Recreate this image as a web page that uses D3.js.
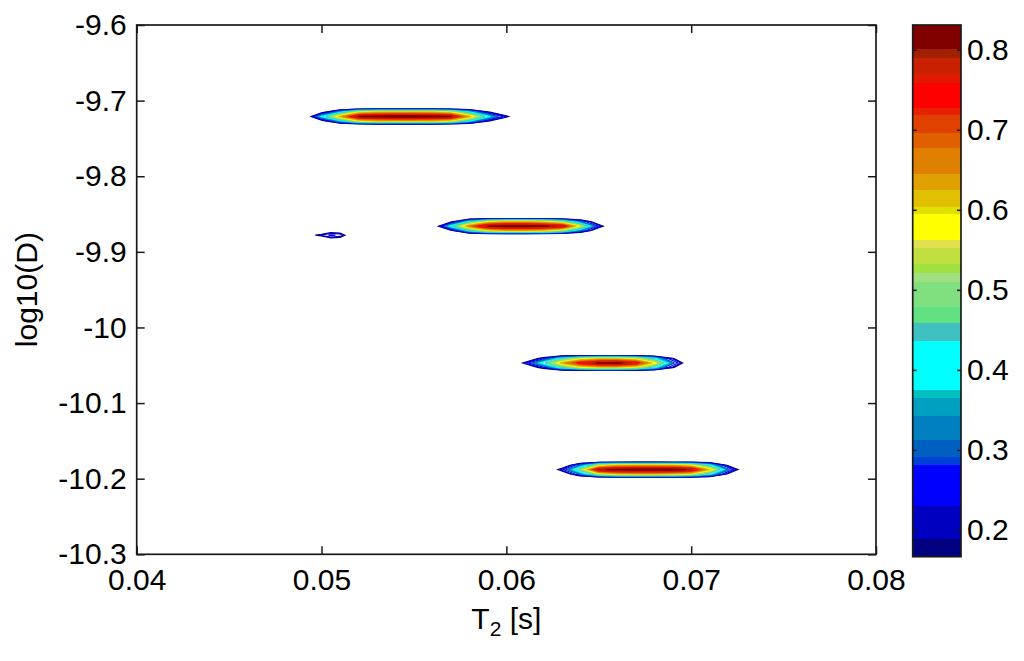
<!DOCTYPE html>
<html>
<head>
<meta charset="utf-8">
<script src="https://cdn.jsdelivr.net/npm/d3@7"></script>
<style>
body { margin: 0; background: #fff; }
text { font-family: "Liberation Sans", Arial, sans-serif; fill: #000; }
</style>
</head>
<body>
<script>
var width = 1024,
    height = 661;

// contour levels = lower edge of each colour band of the colorbar
var levels = [0.1666, 0.1884, 0.2300, 0.2813, 0.2916, 0.3125, 0.3429, 0.3646, 0.3750,
    0.4363, 0.4584, 0.4791, 0.5104, 0.5209, 0.5321, 0.5521, 0.5625, 0.5946, 0.6029,
    0.6250, 0.6446, 0.6771, 0.6959, 0.7188, 0.7271, 0.7584, 0.7696, 0.7896, 0.8009];
var levelColors = ["#000080", "#0000c0", "#0000ff", "#0040d8", "#0060c0", "#0080c0", "#00a0c0", "#00c0c0", "#00ffff",
    "#40c0c0", "#60e080", "#80e080", "#a0e080", "#a0e040", "#c0e040", "#e0e050", "#ffff00", "#e0e000", "#e0c000",
    "#e0a000", "#e08000", "#e06000", "#e04000", "#e82000", "#ff0000", "#e01a00", "#c82000", "#a02000", "#800000"];
var cbarMax = 0.8309;
var cbarTicks = [0.2, 0.3, 0.4, 0.5, 0.6, 0.7, 0.8];

var xTicks = [0.04, 0.05, 0.06, 0.07, 0.08];
var xTickLabels = ["0.04", "0.05", "0.06", "0.07", "0.08"];
var yTicks = [-9.6, -9.7, -9.8, -9.9, -10, -10.1, -10.2, -10.3];
var yTickLabels = ["-9.6", "-9.7", "-9.8", "-9.9", "-10", "-10.1", "-10.2", "-10.3"];

// log10(D) offsets of the grid rows around each peak centre (top row first)
var rowOffsets = [0.0116, 0.0058, 0, -0.0058, -0.0116];

// peak 1, log10(D) = -9.721
var peak1T2 = [0.049, 0.050, 0.051, 0.052, 0.053, 0.054, 0.055, 0.056, 0.057, 0.058, 0.059, 0.060, 0.061];
var peak1Mid = [0, 0.38, 0.62, 0.805, 0.82, 0.83, 0.83, 0.82, 0.805, 0.62, 0.40, 0.19, 0];
var peak1Side = [0, 0.12, 0.35, 0.55, 0.60, 0.60, 0.60, 0.60, 0.55, 0.38, 0.18, 0.05, 0];

// peak 2, log10(D) = -9.866
var peak2T2 = [0.055, 0.056, 0.057, 0.058, 0.059, 0.060, 0.061, 0.062, 0.063, 0.064, 0.065, 0.066];
var peak2Mid = [0, 0.05, 0.40, 0.66, 0.80, 0.83, 0.83, 0.81, 0.78, 0.55, 0.22, 0];
var peak2Side = [0, 0, 0.15, 0.40, 0.56, 0.60, 0.60, 0.58, 0.50, 0.30, 0.08, 0];

// peak 3, log10(D) = -10.047
var peak3T2 = [0.060, 0.061, 0.062, 0.063, 0.064, 0.065, 0.066, 0.067, 0.068, 0.069, 0.070, 0.071];
var peak3Mid = [0, 0.19, 0.42, 0.62, 0.75, 0.81, 0.82, 0.76, 0.58, 0.30, 0.05, 0];
var peak3Side = [0, 0.05, 0.22, 0.42, 0.54, 0.58, 0.58, 0.54, 0.40, 0.18, 0, 0];

// peak 4, log10(D) = -10.188
var peak4T2 = [0.062, 0.063, 0.064, 0.065, 0.066, 0.067, 0.068, 0.069, 0.070, 0.071, 0.072, 0.073, 0.074];
var peak4Mid = [0, 0.21, 0.48, 0.79, 0.82, 0.83, 0.83, 0.83, 0.79, 0.60, 0.30, 0.05, 0];
var peak4Side = [0, 0.06, 0.30, 0.52, 0.59, 0.60, 0.60, 0.59, 0.55, 0.40, 0.15, 0, 0];

// small peak, log10(D) = -9.878
var peak5T2 = [0.0490, 0.0495, 0.0500, 0.0505, 0.0510, 0.0515, 0.0520];
var peak5Mid = [0, 0.15, 0.20, 0.24, 0.22, 0.12, 0];
var peak5Side = [0, 0, 0.02, 0.12, 0.11, 0, 0];

var peaks = [
    {t2: peak5T2, logD: -9.878, mid: peak5Mid, side: peak5Side},
    {t2: peak1T2, logD: -9.721, mid: peak1Mid, side: peak1Side},
    {t2: peak2T2, logD: -9.866, mid: peak2Mid, side: peak2Side},
    {t2: peak3T2, logD: -10.047, mid: peak3Mid, side: peak3Side},
    {t2: peak4T2, logD: -10.188, mid: peak4Mid, side: peak4Side}
];

var margin = {left: 136.7, right: 876, top: 25, bottom: 554.3};

var svg = d3.select("body").append("svg")
    .attr("width", width)
    .attr("height", height);

var x = d3.scaleLinear().domain([0.04, 0.08]).range([margin.left, margin.right]);
var y = d3.scaleLinear().domain([-9.6, -10.3]).range([margin.top, margin.bottom]);

// contours
var plot = svg.append("g");
peaks.forEach(function(p) {
    var n = p.t2.length;
    var zeros = p.mid.map(function() { return 0; });
    var values = [].concat(zeros, p.side, p.mid, p.side, zeros);
    var ix = d3.scaleLinear().domain([0, n - 1]).range([x(p.t2[0]), x(p.t2[n - 1])]);
    var iy = d3.scaleLinear().domain([0, rowOffsets.length - 1])
        .range([y(p.logD + rowOffsets[0]), y(p.logD + rowOffsets[rowOffsets.length - 1])]);
    var path = d3.geoPath(d3.geoTransform({
        point: function(a, b) { this.stream.point(ix(a - 0.5), iy(b - 0.5)); }
    }));
    var contours = d3.contours().size([n, rowOffsets.length]).thresholds(levels)(values);
    plot.selectAll(null)
        .data(contours)
        .enter()
        .append("path")
        .attr("d", path)
        .attr("fill", "none")
        .attr("stroke", function(d, i) { return levelColors[i]; })
        .attr("stroke-width", 1.2);
});

// axes, MATLAB style with inward ticks on all sides
var axisColor = "#1a1a1a";
var gx = svg.append("g")
    .attr("transform", "translate(0," + margin.bottom + ")")
    .call(d3.axisBottom(x).tickValues(xTicks).tickSize(-8).tickPadding(14)
        .tickFormat(function(d, i) { return xTickLabels[i]; }));
svg.append("g")
    .attr("transform", "translate(0," + margin.top + ")")
    .call(d3.axisTop(x).tickValues(xTicks).tickSize(-8).tickFormat(""));
var gy = svg.append("g")
    .attr("transform", "translate(" + margin.left + ",0)")
    .call(d3.axisLeft(y).tickValues(yTicks).tickSize(-8).tickPadding(10)
        .tickFormat(function(d, i) { return yTickLabels[i]; }));
svg.append("g")
    .attr("transform", "translate(" + margin.right + ",0)")
    .call(d3.axisRight(y).tickValues(yTicks).tickSize(-8).tickFormat(""));

svg.selectAll(".domain").remove();
svg.selectAll(".tick line").attr("stroke", axisColor).attr("stroke-width", 1.5);
svg.selectAll(".tick text").style("font-size", "30px").attr("fill", "#000");

svg.append("rect")
    .attr("x", margin.left)
    .attr("y", margin.top)
    .attr("width", margin.right - margin.left)
    .attr("height", margin.bottom - margin.top)
    .attr("fill", "none")
    .attr("stroke", axisColor)
    .attr("stroke-width", 1.7);

// axis titles
var xt = svg.append("text")
    .attr("x", (margin.left + margin.right) / 2)
    .attr("y", 629)
    .attr("text-anchor", "middle")
    .style("font-size", "30px");
xt.append("tspan").text("T");
xt.append("tspan").text("2").style("font-size", "21px").attr("dy", 7);
xt.append("tspan").text(" [s]").attr("dy", -7);

svg.append("text")
    .attr("transform", "translate(37," + ((margin.top + margin.bottom) / 2) + ") rotate(-90)")
    .attr("text-anchor", "middle")
    .style("font-size", "30px")
    .text("log10(D)");

// colorbar
var cb = {left: 912.7, right: 961, top: 25, bottom: 556.7};
var cy = d3.scaleLinear().domain([levels[0], cbarMax]).range([cb.bottom, cb.top]);
var bands = levels.map(function(v, i) {
    return {lo: v, hi: i < levels.length - 1 ? levels[i + 1] : cbarMax, color: levelColors[i]};
});
svg.append("g").selectAll("rect")
    .data(bands)
    .enter()
    .append("rect")
    .attr("x", cb.left)
    .attr("width", cb.right - cb.left)
    .attr("y", function(d) { return cy(d.hi); })
    .attr("height", function(d) { return cy(d.lo) - cy(d.hi); })
    .attr("fill", function(d) { return d.color; })
    .attr("shape-rendering", "crispEdges");

svg.append("g")
    .attr("transform", "translate(" + cb.right + ",0)")
    .call(d3.axisRight(cy).tickValues(cbarTicks).tickSize(-4).tickPadding(6)
        .tickFormat(d3.format(".1f")))
    .call(function(g) { g.select(".domain").remove(); })
    .call(function(g) {
        g.selectAll(".tick line").attr("stroke", axisColor).attr("stroke-width", 1.5);
        g.selectAll(".tick text").style("font-size", "30px").attr("fill", "#000");
    });
svg.append("g")
    .attr("transform", "translate(" + cb.left + ",0)")
    .call(d3.axisLeft(cy).tickValues(cbarTicks).tickSize(-4).tickFormat(""))
    .call(function(g) {
        g.select(".domain").remove();
        g.selectAll(".tick line").attr("stroke", axisColor).attr("stroke-width", 1.5);
    });
svg.append("rect")
    .attr("x", cb.left)
    .attr("y", cb.top)
    .attr("width", cb.right - cb.left)
    .attr("height", cb.bottom - cb.top)
    .attr("fill", "none")
    .attr("stroke", axisColor)
    .attr("stroke-width", 1.7);
</script>
</body>
</html>
